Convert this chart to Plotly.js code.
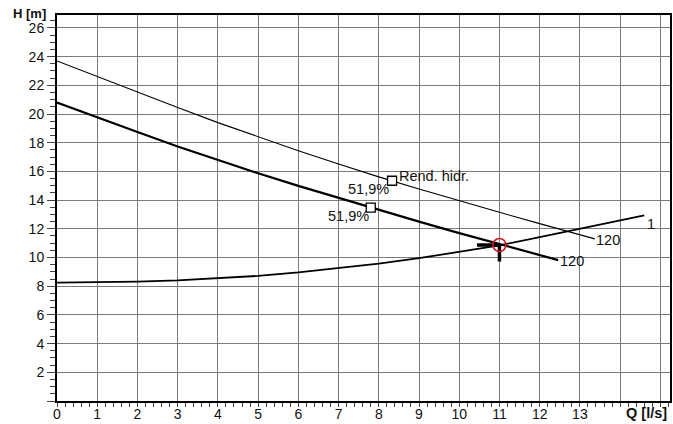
<!DOCTYPE html>
<html>
<head>
<meta charset="utf-8">
<script src="https://cdn.plot.ly/plotly-3.0.1.min.js"></script>
<style>
  html, body { margin: 0; padding: 0; background: #ffffff; }
  #chart { width: 673px; height: 424px; }
</style>
</head>
<body>
<div id="chart"></div>
<script>
// Pump head curve with hydraulic efficiency marker (thin line)
const rendQ = [0, 1, 2, 3, 4, 5, 6, 7, 8, 9, 10, 11, 12, 12.6, 13.37];
const rendH = [23.7, 22.6, 21.5, 20.45, 19.4, 18.42, 17.44, 16.52, 15.62, 14.78, 13.95, 13.15, 12.36, 11.89, 11.3];

// Pump head curve (thick line)
const pumpQ = [0, 1, 2, 3, 4, 5, 6, 7, 7.8, 9, 10, 11, 12, 12.46];
const pumpH = [20.8, 19.76, 18.74, 17.74, 16.78, 15.87, 14.99, 14.15, 13.48, 12.5, 11.7, 10.92, 10.16, 9.82];

// System curve
const sysQ = [0, 1, 2, 3, 4, 5, 6, 7, 8, 9, 10, 11, 12, 13, 14, 14.6];
const sysH = [8.25, 8.27, 8.32, 8.41, 8.54, 8.72, 8.96, 9.24, 9.57, 9.95, 10.38, 10.85, 11.42, 12.0, 12.58, 12.93];

// Efficiency markers (Q, H) and their labels
const effQ = [8.33, 7.8];
const effH = [15.35, 13.48];
const effLabels = ['51,9%', '51,9%'];

// Operating point
const opQ = [11];
const opH = [10.87];

// Curve end labels
const rendEndLabel = '120';
const pumpEndLabel = '120';
const sysEndLabel = '1';
const rendName = 'Rend. hidr.';

// Axis ticks
const xTickVals = [0, 1, 2, 3, 4, 5, 6, 7, 8, 9, 10, 11, 12, 13, 14, 15];
const xTickText = ['0', '1', '2', '3', '4', '5', '6', '7', '8', '9', '10', '11', '12', '13', '', ''];
const yTickVals = [0, 2, 4, 6, 8, 10, 12, 14, 16, 18, 20, 22, 24, 26];
const yTickText = ['', '2', '4', '6', '8', '10', '12', '14', '16', '18', '20', '22', '24', '26'];

const FONT = 'Liberation Sans, Arial, sans-serif';
const GRID = '#7a7a7a';
const TEXT = '#111';

const traces = [
  { x: rendQ, y: rendH, mode: 'lines', line: { color: '#000', width: 1.1 }, hoverinfo: 'skip' },
  { x: pumpQ, y: pumpH, mode: 'lines', line: { color: '#000', width: 2.2 }, hoverinfo: 'skip' },
  { x: sysQ, y: sysH, mode: 'lines', line: { color: '#000', width: 1.8 }, hoverinfo: 'skip' },
  // operating point "T" marker: short bar to the left and a drop below
  { x: [opQ[0] - 0.56, opQ[0]], y: [opH[0], opH[0]], mode: 'lines', line: { color: '#000', width: 3.5 }, hoverinfo: 'skip' },
  { x: [opQ[0], opQ[0]], y: [opH[0], opH[0] - 1.15], mode: 'lines', line: { color: '#000', width: 3.5 }, hoverinfo: 'skip' },
  { x: opQ, y: opH, mode: 'markers',
    marker: { symbol: 'circle-open', size: 13, color: '#e0141e', line: { width: 1.6, color: '#e0141e' } }, hoverinfo: 'skip' },
  { x: effQ, y: effH, mode: 'markers',
    marker: { symbol: 'square', size: 9, color: '#fff', line: { width: 1.3, color: '#000' } }, hoverinfo: 'skip' }
];

const annFont = { family: FONT, size: 14.5, color: TEXT };
const annotations = [
  { x: effQ[0], y: effH[0], xref: 'x', yref: 'y', text: rendName, showarrow: false,
    xanchor: 'left', yanchor: 'middle', xshift: 5, yshift: 5, font: annFont },
  { x: effQ[0], y: effH[0], xref: 'x', yref: 'y', text: effLabels[0], showarrow: false,
    xanchor: 'right', yanchor: 'middle', xshift: -1, yshift: -8, font: annFont },
  { x: effQ[1], y: effH[1], xref: 'x', yref: 'y', text: effLabels[1], showarrow: false,
    xanchor: 'right', yanchor: 'middle', xshift: 0, yshift: -8, font: annFont },
  { x: rendQ[rendQ.length - 1], y: rendH[rendH.length - 1], xref: 'x', yref: 'y', text: rendEndLabel,
    showarrow: false, xanchor: 'left', yanchor: 'middle', xshift: -1, yshift: -1, font: annFont },
  { x: pumpQ[pumpQ.length - 1], y: pumpH[pumpH.length - 1], xref: 'x', yref: 'y', text: pumpEndLabel,
    showarrow: false, xanchor: 'left', yanchor: 'middle', xshift: 0, yshift: -1, font: annFont },
  { x: sysQ[sysQ.length - 1], y: sysH[sysH.length - 1], xref: 'x', yref: 'y', text: sysEndLabel,
    showarrow: false, xanchor: 'left', yanchor: 'middle', xshift: 1, yshift: -9, font: annFont },
  { x: -0.016, y: 1.004, xref: 'paper', yref: 'paper', text: '<b>H [m]</b>', showarrow: false,
    xanchor: 'right', yanchor: 'middle', borderpad: 0, font: { family: FONT, size: 13, color: TEXT } },
  { x: 0.998, y: -0.03, xref: 'paper', yref: 'paper', text: '<b>Q [l/s]</b>', showarrow: false,
    xanchor: 'right', yanchor: 'middle', font: { family: FONT, size: 14.5, color: TEXT } }
];

const layout = {
  width: 673, height: 424,
  margin: { l: 57, r: 3, t: 15, b: 23 },
  paper_bgcolor: '#fff', plot_bgcolor: '#fff',
  showlegend: false,
  font: { family: FONT, size: 14, color: TEXT },
  xaxis: {
    range: [0, 15.24], tickmode: 'array', tickvals: xTickVals, ticktext: xTickText,
    showgrid: true, gridcolor: GRID, gridwidth: 1,
    showline: true, linecolor: '#000', linewidth: 2, mirror: true,
    ticks: 'outside', ticklen: 4, tickcolor: '#444', tickwidth: 1,
    ticklabelstandoff: -5,
    minor: { dtick: 0.2, tick0: 0, ticks: 'outside', ticklen: 4, tickcolor: '#444', showgrid: false },
    zeroline: false, fixedrange: true,
    tickfont: { family: FONT, size: 14, color: TEXT }
  },
  yaxis: {
    range: [0, 26.9], tickmode: 'array', tickvals: yTickVals, ticktext: yTickText,
    showgrid: true, gridcolor: GRID, gridwidth: 1,
    showline: true, linecolor: '#000', linewidth: 2, mirror: true,
    ticks: 'outside', ticklen: 8, tickcolor: '#444', tickwidth: 1,
    minor: { dtick: 0.5, tick0: 0, ticks: 'outside', ticklen: 5, tickcolor: '#444', showgrid: false },
    zeroline: false, fixedrange: true,
    tickfont: { family: FONT, size: 14, color: TEXT }
  },
  annotations: annotations
};

Plotly.newPlot('chart', traces, layout, { staticPlot: true, displayModeBar: false });
</script>
</body>
</html>
